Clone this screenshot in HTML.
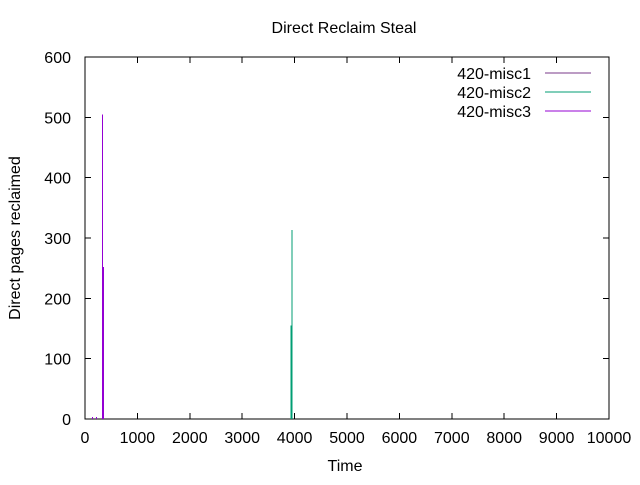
<!DOCTYPE html>
<html><head><meta charset="utf-8"><style>
body{margin:0;background:#fff}
svg text{font-family:"Liberation Sans",sans-serif;font-size:16px;fill:#000}
</style></head><body>
<svg width="640" height="480" shape-rendering="crispEdges">
<g id="g"></g>
</svg>
<script>
const xTicks=[0,1000,2000,3000,4000,5000,6000,7000,8000,9000,10000];
const yTicks=[0,100,200,300,400,500,600];
const seriesNames=["420-misc1","420-misc2","420-misc3"];
const seriesColors=["#7a3a8a","#009e73","#9400d3"];
const misc1Times=[];
const misc1Values=[];
const misc2Times=[3935,3945,3955];
const misc2Values=[155,155,313];
const misc3Times=[140,220,330,340,350];
const misc3Values=[3,3,505,252,252];
const X0=85,X1=609,Y0=419,Y1=57;
const sx=v=>X0+(v-0)/10000*(X1-X0);
const sy=v=>Y0-(v-0)/600*(Y0-Y1);
const g=document.getElementById('g');
const NS='http://www.w3.org/2000/svg';
function mk(t,a,p){const e=document.createElementNS(NS,t);for(const k in a)e.setAttribute(k,a[k]);(p||g).appendChild(e);return e;}
const box=mk('rect',{x:X0,y:Y1,width:X1-X0,height:Y0-Y1,fill:'none',stroke:'#000','stroke-width':1});


xTicks.forEach(v=>{const x=sx(v);
mk('line',{x1:x,y1:Y0,x2:x,y2:Y0-6,stroke:'#000'});mk('line',{x1:x,y1:Y1,x2:x,y2:Y1+6,stroke:'#000'});
const t=mk('text',{x:x,y:Y0+24,'text-anchor':'middle'});t.textContent=v;

});
yTicks.forEach(v=>{const y=sy(v);
mk('line',{x1:X0,y1:y,x2:X0+6,y2:y,stroke:'#000'});mk('line',{x1:X1,y1:y,x2:X1-6,y2:y,stroke:'#000'});
const t=mk('text',{x:X0-14,y:y+6,'text-anchor':'end'});t.textContent=v;

});
function draw(ts,vs,c){ts.forEach((t,i)=>{const l=mk('line',{x1:sx(t),y1:Y0,x2:sx(t),y2:sy(vs[i]),stroke:c,'stroke-width':1});

});}
draw(misc1Times,misc1Values,seriesColors[0]);
draw(misc2Times,misc2Values,seriesColors[1]);
draw(misc3Times,misc3Values,seriesColors[2]);
seriesNames.forEach((n,i)=>{const y=73+i*19;
const t=mk('text',{x:531,y:y+6,'text-anchor':'end'});t.textContent=n;


mk('line',{x1:545,y1:y,x2:591,y2:y,stroke:seriesColors[i]});});
const ti=mk('text',{x:344,y:33,'text-anchor':'middle'});ti.textContent='Direct Reclaim Steal';


const xt=mk('text',{x:345,y:471,'text-anchor':'middle'});xt.textContent='Time';


const yt=mk('text',{x:0,y:0,'text-anchor':'middle',transform:'translate(20,238) rotate(-90)'});yt.textContent='Direct pages reclaimed';


</script>
</body></html>
